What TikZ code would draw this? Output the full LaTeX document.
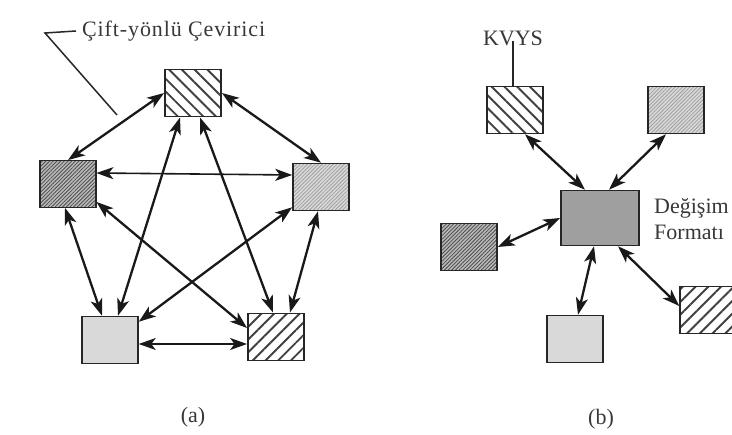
\documentclass[tikz,border=0pt]{standalone}
\usepackage{fontspec}
\setmainfont{Liberation Serif}
\newfontfamily\widefont[LetterSpace=4]{Liberation Serif}
\usetikzlibrary{arrows.meta,patterns.meta}

\tikzset{
  box/.style={draw=black!85, line width=1.5pt, minimum width=56pt, minimum height=47pt, inner sep=0pt},
  sparseNW/.style={box, pattern={Lines[angle=-45,distance=9pt,line width=1.9pt]}, pattern color=black!75},
  sparseNE/.style={box, pattern={Lines[angle=45,distance=9pt,line width=1.9pt]}, pattern color=black!75},
  denseDark/.style={box, preaction={fill=gray!55}, pattern={Lines[angle=45,distance=2.6pt,line width=0.8pt]}, pattern color=black!70},
  denseLight/.style={box, preaction={fill=gray!30}, pattern={Lines[angle=45,distance=2.6pt,line width=0.8pt]}, pattern color=gray!75},
  plain/.style={box, fill=gray!30},
  darkbox/.style={box, fill=gray!75, minimum width=78pt, minimum height=55pt},
  link/.style={line width=2.3pt, black!90, {Stealth[length=17pt,width=12pt,inset=4.5pt]}-{Stealth[length=17pt,width=12pt,inset=4.5pt]}},
  thinlink/.style={link, line width=1.6pt},
  lbl/.style={font=\fontsize{22}{24}\selectfont, text=black!78, inner sep=0pt},
}

\begin{document}
\begin{tikzpicture}[x=1pt,y=-1pt]
\useasboundingbox (0,0) rectangle (732,435);

% ---------- (a) every converter linked to every other ----------
\node[sparseNW]   (T)  at (193,93)  {};
\node[denseDark]  (L)  at (68,184)  {};
\node[denseLight] (R)  at (321,187) {};
\node[plain]      (BL) at (110,340) {};
\node[sparseNE]   (BR) at (276,337) {};

\draw[link] (T.west) -- (L.north);
\draw[link] (T.east) -- (R.north);
\draw[thinlink] ([yshift=11pt]L.east) -- ([yshift=12pt]R.west);
\draw[link] ([xshift=-3pt]L.south) -- ([xshift=-8pt]BL.north);
\draw[link] ([yshift=6pt]L.south east) -- ([yshift=9pt]BR.west);
\draw[link] ([xshift=-13pt]T.south) -- ([xshift=8pt]BL.north);
\draw[link] ([xshift=7pt]T.south) -- ([xshift=-3pt]BR.north);
\draw[link] ([yshift=4pt]R.south west) -- ([yshift=-6pt]BL.north east);
\draw[link] ([xshift=-3pt]R.south) -- ([xshift=14pt]BR.north);
\draw[thinlink] ([yshift=-4pt]BL.east) -- ([yshift=-7pt]BR.west);

% leader to the label
\node[lbl, font=\fontsize{22}{24}\widefont, anchor=base west] (cev) at (82,37) {Çift-yönlü Çevirici};
\coordinate (lk) at (45,33);
\coordinate (lt) at (117,115);
\draw[line width=1.5pt, black!85] ([xshift=-6pt,yshift=6pt]cev.base west) -- (lk) -- (lt);

\node[lbl] (capa) at (193,417) {(a)};

% ---------- (b) every converter linked to one exchange format ----------
\node[darkbox]    (C)  at (600,218) {};
\node[sparseNW]   (K)  at (515,110) {};
\node[denseLight] (TR) at (676,110) {};
\node[denseDark]  (LB) at (469,247) {};
\node[plain]      (B)  at (575,339) {};
\node[sparseNE]   (RB) at (708,310) {};

\node[lbl] (kvys) at (513,38) {KVYS};
\draw[line width=1.5pt, black!85] (kvys.south) ++(0,-5) coordinate (kv) -- (kv |- K.north);

\draw[link] ([xshift=10pt]K.south) -- ([xshift=-15pt]C.north);
\draw[link] ([xshift=-10pt]TR.south) -- ([xshift=9pt]C.north);
\draw[link] (LB.east) -- (C.west);
\draw[link] ([xshift=-6pt]C.south) -- ([xshift=3pt]B.north);
\draw[link] ([xshift=18pt]C.south) -- ([yshift=4pt]RB.west);

\node[lbl, anchor=base west] (deg) at (654,214) {Değişim};
\node[lbl, anchor=base west] (fmt) at (654,240) {Formatı};

\node[lbl] (capb) at (601,419) {(b)};
\end{tikzpicture}
\end{document}
